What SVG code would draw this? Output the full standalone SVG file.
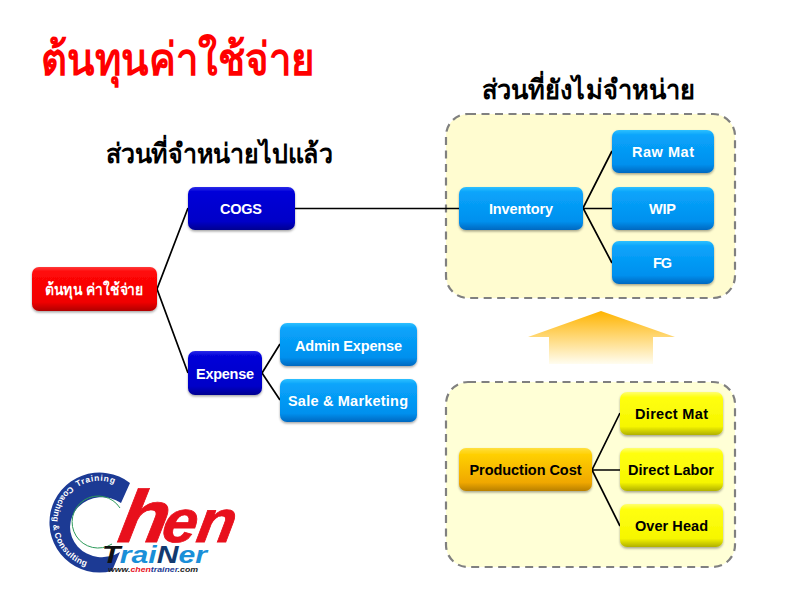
<svg xmlns="http://www.w3.org/2000/svg" width="800" height="599" viewBox="0 0 800 599">
<style>
text{font-family:"Liberation Sans","Noto Sans","DejaVu Sans",sans-serif;font-weight:bold}
.n{font-size:14.500px;text-anchor:middle}
.w{fill:#fff}.k{fill:#000}
.box{filter:url(#sh)}
.panel{stroke:#808080;stroke-width:2.200;stroke-dasharray:8 5.500}
.c{fill:none;stroke:#000;stroke-width:1.700}
.blue{fill:url(#gB)}.navy{fill:url(#gN)}.red{fill:url(#gR)}.yel{fill:url(#gY)}.ora{fill:url(#gO)}
.ring{font-size:8.500px;fill:#fff}
.hen{font-style:italic;fill:#e8101c;stroke:#e8101c;stroke-width:.8px}
</style>
<defs>
<filter id="sh" x="-10%" y="-15%" width="120%" height="135%"><feDropShadow dx="0" dy="1.500" stdDeviation="1.200" flood-color="#000" flood-opacity=".35"/></filter>
<linearGradient id="gB" x1="0" y1="0" x2="0" y2="1"><stop offset="0" stop-color="#2fc0ff"/><stop offset=".12" stop-color="#0aa4fb"/><stop offset=".8" stop-color="#0090ee"/><stop offset="1" stop-color="#0068c0"/></linearGradient>
<linearGradient id="gN" x1="0" y1="0" x2="0" y2="1"><stop offset="0" stop-color="#2a2ae8"/><stop offset=".12" stop-color="#0000d8"/><stop offset=".8" stop-color="#0000c8"/><stop offset="1" stop-color="#000090"/></linearGradient>
<linearGradient id="gR" x1="0" y1="0" x2="0" y2="1"><stop offset="0" stop-color="#ff3a3a"/><stop offset=".12" stop-color="#ff0808"/><stop offset=".8" stop-color="#f00000"/><stop offset="1" stop-color="#b00000"/></linearGradient>
<linearGradient id="gY" x1="0" y1="0" x2="0" y2="1"><stop offset="0" stop-color="#ffff70"/><stop offset=".12" stop-color="#ffff10"/><stop offset=".8" stop-color="#f6f600"/><stop offset="1" stop-color="#b0b000"/></linearGradient>
<linearGradient id="gO" x1="0" y1="0" x2="0" y2="1"><stop offset="0" stop-color="#ffe040"/><stop offset=".15" stop-color="#ffd000"/><stop offset=".8" stop-color="#f0a800"/><stop offset="1" stop-color="#b88000"/></linearGradient>
<linearGradient id="gA" x1="0" y1="0" x2="0" y2="1"><stop offset="0" stop-color="#ffb400"/><stop offset="1" stop-color="#fffdf0"/></linearGradient>
<path id="arcLeft" d="M70.400 486A46 46 0 0 0 86.900 566.400"/>
<path id="arcTop" d="M77.500 487A41 41 0 0 1 116 484.500"/>
</defs>

<text x="41" y="75" font-size="45" fill="#ff0000" textLength="273" lengthAdjust="spacingAndGlyphs">ต้นทุนค่าใช้จ่าย</text>
<text x="106" y="163" font-size="27" fill="#000" textLength="227" lengthAdjust="spacingAndGlyphs">ส่วนที่จำหน่ายไปแล้ว</text>
<text x="482" y="99" font-size="27" fill="#000" textLength="213" lengthAdjust="spacingAndGlyphs">ส่วนที่ยังไม่จำหน่าย</text>

<rect id="panel-top" class="panel" fill="#fffcd0" x="446" y="114" width="289" height="184" rx="22"/>
<rect id="panel-bottom" class="panel" fill="#ffffd6" x="446" y="382" width="289" height="185" rx="22"/>
<path id="up-arrow" d="M601 311L675 337H653V364H549V337H528Z" fill="url(#gA)"/>

<g id="connectors">
<path class="c" d="M188 208L157 289L188 373"/>
<path class="c" d="M295 208.500H459"/>
<path class="c" d="M280 344L262 373L280 400"/>
<path class="c" d="M612 151L583 208L612 263M583 208.500H612"/>
<path class="c" d="M620 413L592 470L620 526M592 470H620"/>
</g>

<g id="n-root"><rect class="box red" x="32" y="267" width="125" height="44" rx="7"/><text class="w" x="45" y="295" font-size="16" textLength="98" lengthAdjust="spacingAndGlyphs">ต้นทุน ค่าใช้จ่าย</text></g>
<g id="n-cogs"><rect class="box navy" x="188" y="187" width="107" height="43" rx="7"/><text class="n w" x="241" y="214" textLength="42">COGS</text></g>
<g id="n-expense"><rect class="box navy" x="188" y="351" width="74" height="44" rx="7"/><text class="n w" x="225" y="379" textLength="58">Expense</text></g>
<g id="n-admin"><rect class="box blue" x="280" y="323" width="137" height="43" rx="7"/><text class="n w" x="348.500" y="350.500" textLength="107">Admin Expense</text></g>
<g id="n-sale"><rect class="box blue" x="280" y="379" width="137" height="43" rx="7"/><text class="n w" x="348" y="406" textLength="120">Sale &amp; Marketing</text></g>
<g id="n-inventory"><rect class="box blue" x="459" y="187" width="124" height="43" rx="7"/><text class="n w" x="521" y="214" textLength="64">Inventory</text></g>
<g id="n-rawmat"><rect class="box blue" x="612" y="130" width="102" height="43" rx="7"/><text class="n w" x="663" y="157" textLength="62">Raw Mat</text></g>
<g id="n-wip"><rect class="box blue" x="612" y="187" width="102" height="43" rx="7"/><text class="n w" x="662.500" y="214" textLength="27">WIP</text></g>
<g id="n-fg"><rect class="box blue" x="612" y="241" width="102" height="43" rx="7"/><text class="n w" x="662.500" y="268" textLength="19">FG</text></g>
<g id="n-production"><rect class="box ora" x="459" y="448" width="133" height="43" rx="7"/><text class="n k" x="525.500" y="475" textLength="112">Production Cost</text></g>
<g id="n-directmat"><rect class="box yel" x="620" y="392" width="103" height="43" rx="7"/><text class="n k" x="671.500" y="419" textLength="73">Direct Mat</text></g>
<g id="n-directlabor"><rect class="box yel" x="620" y="448" width="103" height="43" rx="7"/><text class="n k" x="671" y="475" textLength="86">Direct Labor</text></g>
<g id="n-overhead"><rect class="box yel" x="620" y="504" width="103" height="43" rx="7"/><text class="n k" x="671.500" y="531" textLength="73">Over Head</text></g>

<g id="logo">
<path d="M130 483A50 50 0 1 0 112 571L120 552A32 30 0 1 1 121 503Z" fill="#1c3a94"/>
<path d="M120 508A26 26 0 1 0 112 544" fill="none" stroke="#2d9a5a" stroke-width="1"/>
<text class="ring"><textPath href="#arcLeft" textLength="100">Coaching &amp; Consulting</textPath></text>
<text class="ring" letter-spacing=".7"><textPath href="#arcTop">Training</textPath></text>
<g transform="translate(116 542) skewX(-10)">
<text class="hen" x="0" y="0" font-size="74" textLength="50" lengthAdjust="spacingAndGlyphs">h</text>
<text class="hen" x="44" y="0" font-size="60" textLength="73" lengthAdjust="spacingAndGlyphs">en</text>
</g>
<text x="102" y="563" font-size="23" font-style="italic" textLength="105" lengthAdjust="spacingAndGlyphs"><tspan fill="#111">T</tspan><tspan fill="#1a8fd8">rai</tspan><tspan fill="#123a70">N</tspan><tspan fill="#1a8fd8">er</tspan></text>
<text x="108" y="572" font-size="7.500" font-style="italic" fill="#222" textLength="90" lengthAdjust="spacingAndGlyphs">www.<tspan fill="#e8101c">chen</tspan><tspan fill="#1c3a94">trainer</tspan>.com</text>
</g>
</svg>
